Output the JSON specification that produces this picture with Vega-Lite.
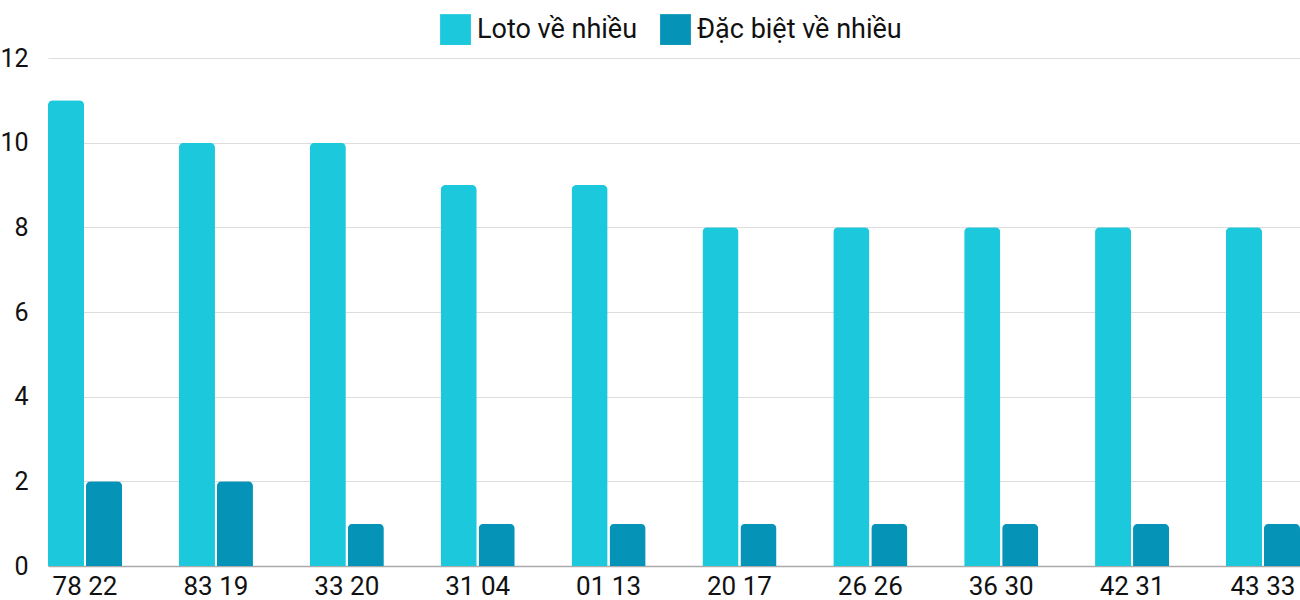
{
  "$schema": "https://vega.github.io/schema/vega-lite/v6.json",
  "width": 1252,
  "height": 508,
  "autosize": {"type": "none"},
  "padding": {"left": 48, "top": 58, "right": 0, "bottom": 34},
  "background": "white",
  "config": {
    "font": "Roboto",
    "view": {"stroke": null}
  },
  "data": {
    "values": [
      {"pair": "78 22", "series": "Loto về nhiều", "value": 11},
      {"pair": "78 22", "series": "Đặc biệt về nhiều", "value": 2},
      {"pair": "83 19", "series": "Loto về nhiều", "value": 10},
      {"pair": "83 19", "series": "Đặc biệt về nhiều", "value": 2},
      {"pair": "33 20", "series": "Loto về nhiều", "value": 10},
      {"pair": "33 20", "series": "Đặc biệt về nhiều", "value": 1},
      {"pair": "31 04", "series": "Loto về nhiều", "value": 9},
      {"pair": "31 04", "series": "Đặc biệt về nhiều", "value": 1},
      {"pair": "01 13", "series": "Loto về nhiều", "value": 9},
      {"pair": "01 13", "series": "Đặc biệt về nhiều", "value": 1},
      {"pair": "20 17", "series": "Loto về nhiều", "value": 8},
      {"pair": "20 17", "series": "Đặc biệt về nhiều", "value": 1},
      {"pair": "26 26", "series": "Loto về nhiều", "value": 8},
      {"pair": "26 26", "series": "Đặc biệt về nhiều", "value": 1},
      {"pair": "36 30", "series": "Loto về nhiều", "value": 8},
      {"pair": "36 30", "series": "Đặc biệt về nhiều", "value": 1},
      {"pair": "42 31", "series": "Loto về nhiều", "value": 8},
      {"pair": "42 31", "series": "Đặc biệt về nhiều", "value": 1},
      {"pair": "43 33", "series": "Loto về nhiều", "value": 8},
      {"pair": "43 33", "series": "Đặc biệt về nhiều", "value": 1}
    ]
  },
  "mark": {"type": "bar", "cornerRadiusEnd": 5},
  "encoding": {
    "x": {
      "field": "pair",
      "type": "nominal",
      "sort": null,
      "scale": {"paddingInner": 0.434, "paddingOuter": 0},
      "axis": {
        "title": null,
        "labelAngle": 0,
        "labelFontSize": 26,
        "labelColor": "#111111",
        "labelPadding": 7,
        "labelBound": false,
        "ticks": false,
        "domainColor": "#aaaaaa",
        "domainWidth": 1.5
      }
    },
    "xOffset": {
      "field": "series",
      "type": "nominal",
      "sort": ["Loto về nhiều", "Đặc biệt về nhiều"],
      "scale": {"paddingInner": 0.05, "paddingOuter": 0}
    },
    "y": {
      "field": "value",
      "type": "quantitative",
      "scale": {"domain": [0, 12]},
      "axis": {
        "title": null,
        "values": [0, 2, 4, 6, 8, 10, 12],
        "labelFontSize": 25,
        "labelColor": "#111111",
        "labelPadding": 20,
        "ticks": false,
        "domain": false,
        "gridColor": "#dddddd",
        "gridWidth": 1
      }
    },
    "color": {
      "field": "series",
      "type": "nominal",
      "sort": ["Loto về nhiều", "Đặc biệt về nhiều"],
      "scale": {"domain": ["Loto về nhiều", "Đặc biệt về nhiều"], "range": ["#1bc8dc", "#0593b8"]},
      "legend": {
        "title": null,
        "orient": "none",
        "direction": "horizontal",
        "legendX": 392,
        "legendY": -44,
        "symbolType": "square",
        "symbolSize": 950,
        "symbolStrokeWidth": 0,
        "labelFontSize": 27,
        "labelLimit": 0,
        "labelColor": "#111111",
        "labelOffset": 6,
        "columnPadding": 22
      }
    }
  }
}
